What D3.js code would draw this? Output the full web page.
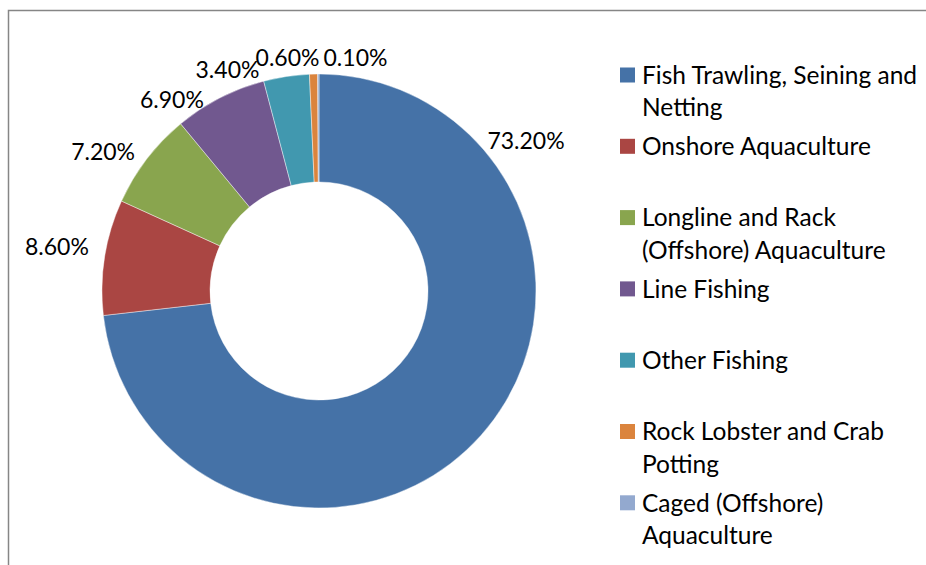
<!DOCTYPE html>
<html>
<head>
<meta charset="utf-8">
<script src="https://cdn.jsdelivr.net/npm/d3@7"></script>
<style>
  html, body { margin: 0; padding: 0; background: #fff; }
  svg { display: block; }
  text { font-family: Lato, "Open Sans", "Liberation Sans", sans-serif; fill: #000; }
</style>
</head>
<body>
<svg id="chart" width="926" height="565"></svg>
<script>
// Share of catch / production by method (percent)
const categories = [
  "Fish Trawling, Seining and Netting",
  "Onshore Aquaculture",
  "Longline and Rack (Offshore) Aquaculture",
  "Line Fishing",
  "Other Fishing",
  "Rock Lobster and Crab Potting",
  "Caged (Offshore) Aquaculture"
];
const values = [73.2, 8.6, 7.2, 6.9, 3.4, 0.6, 0.1];
const valueLabels = ["73.20%", "8.60%", "7.20%", "6.90%", "3.40%", "0.60%", "0.10%"];

// Legend text broken over lines as it wraps in the legend column
const legendLines = [
  ["Fish Trawling, Seining and", "Netting"],
  ["Onshore Aquaculture"],
  ["Longline and Rack", "(Offshore) Aquaculture"],
  ["Line Fishing"],
  ["Other Fishing"],
  ["Rock Lobster and Crab", "Potting"],
  ["Caged (Offshore)", "Aquaculture"]
];

const colors = ["#4572A7", "#AA4643", "#89A54E", "#71588F", "#4198AF", "#DB843D", "#93A9CF"];

// Label placement around the ring: bearing (degrees, clockwise from top) and distance from centre
const labelBearing = [54.1, 279.5, 302.8, 322.4, 337.5, 352.3, 8.9];
const labelDistance = [255.6, 265.7, 256.9, 241, 239.2, 235.1, 235.8];

const svg = d3.select("#chart");
const W = 926, H = 565;

// Chart area frame
svg.append("rect")
  .attr("x", 8.5).attr("y", 10.5)
  .attr("width", W + 20).attr("height", H + 20)
  .attr("fill", "#fff")
  .attr("stroke", "#868686")
  .attr("stroke-width", 1.5);

const cx = 319, cy = 291;
const outerR = 217, innerR = 109;

const pie = d3.pie().sort(null).value(d => d)
  .startAngle(0).endAngle(2 * Math.PI);
const arcs = pie(values);
const arc = d3.arc().innerRadius(innerR).outerRadius(outerR);

const g = svg.append("g").attr("transform", `translate(${cx},${cy})`);

g.selectAll("path.slice")
  .data(arcs)
  .join("path")
  .attr("class", "slice")
  .attr("d", arc)
  .attr("fill", (d, i) => colors[i])
  .attr("stroke", "#fff")
  .attr("stroke-width", 0.6)
  .attr("stroke-opacity", 0.7);

g.selectAll("text.value")
  .data(arcs)
  .join("text")
  .attr("class", "value")
  .attr("x", (d, i) => labelDistance[i] * Math.sin(labelBearing[i] * Math.PI / 180))
  .attr("y", (d, i) => -labelDistance[i] * Math.cos(labelBearing[i] * Math.PI / 180))
  .attr("dy", "0.36em")
  .attr("text-anchor", "middle")
  .attr("font-size", 23)
  .text((d, i) => valueLabels[i]);

// Legend
const legendX = 620, legendTop = 75, legendStep = 71.3, lineH = 32.5, sw = 15;
const items = svg.append("g").selectAll("g")
  .data(categories)
  .join("g")
  .attr("transform", (d, i) => `translate(${legendX},${legendTop + i * legendStep})`);

items.append("rect")
  .attr("x", 0).attr("y", -sw / 2)
  .attr("width", sw).attr("height", sw)
  .attr("fill", (d, i) => colors[i]);

items.append("text")
  .attr("font-size", 24.5)
  .selectAll("tspan")
  .data((d, i) => legendLines[i])
  .join("tspan")
  .attr("x", 22)
  .attr("y", (d, j) => j * lineH)
  .attr("dy", "0.36em")
  .text(d => d);
</script>
</body>
</html>
